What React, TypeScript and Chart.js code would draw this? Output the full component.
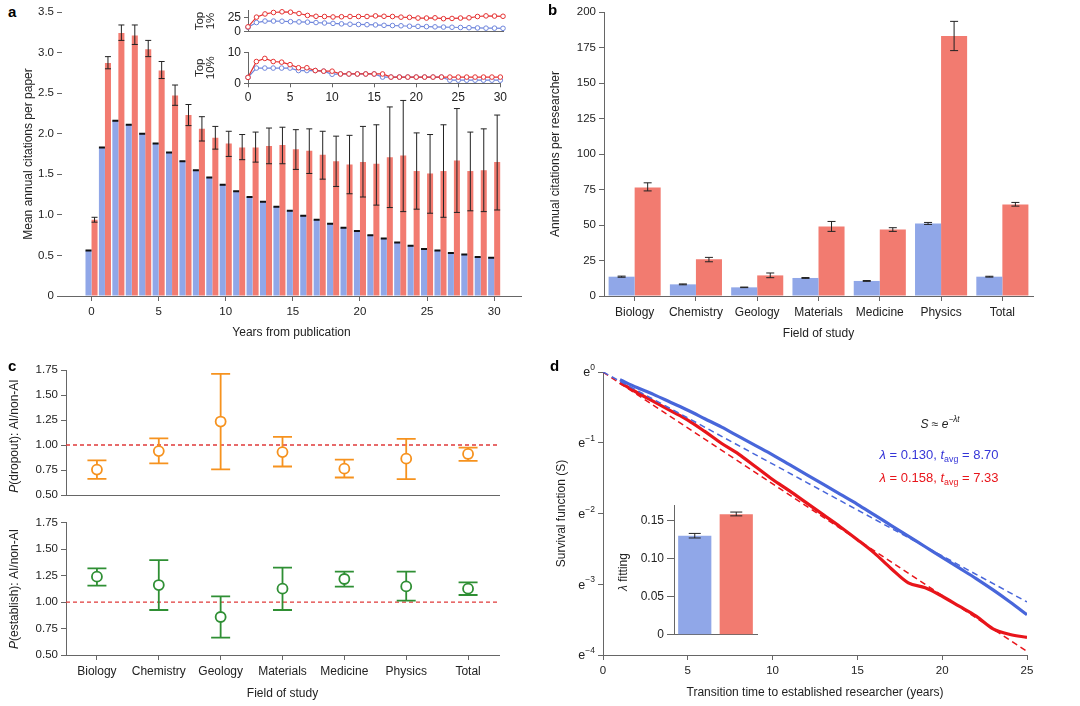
import React, { useEffect, useRef } from "react";
import { Chart, registerables } from "chart.js";
Chart.register(...registerables);

const FONT = "'Liberation Sans', Arial, 'DejaVu Sans', sans-serif";
const TEXT = "#222";
const AXIS = "#666";
const BLUE_BAR = "#90a7e8";
const RED_BAR = "#f27b70";
const ORANGE = "#f6921e";
const GREEN = "#2f8f34";
const DASH_RED = "#e03a3a";
const LINE_BLUE = "#4866da";
const LINE_RED = "#e8151b";
const TEXT_BLUE = "#3535d8";
const INSET_RED = "#e53232";
const INSET_BLUE = "#6f86dc";

Chart.defaults.font.family = FONT;
Chart.defaults.color = TEXT;

// ---------- Panel a ----------
const years = [0, 1, 2, 3, 4, 5, 6, 7, 8, 9, 10, 11, 12, 13, 14, 15, 16, 17, 18, 19, 20, 21, 22, 23, 24, 25, 26, 27, 28, 29, 30];
const nonAiPaper = [0.56, 1.83, 2.16, 2.11, 2.0, 1.88, 1.77, 1.66, 1.55, 1.46, 1.37, 1.29, 1.22, 1.16, 1.1, 1.05, 0.99, 0.94, 0.89, 0.84, 0.8, 0.75, 0.71, 0.66, 0.62, 0.58, 0.56, 0.53, 0.51, 0.48, 0.47];
const aiPaper = [0.94, 2.87, 3.24, 3.21, 3.04, 2.78, 2.47, 2.23, 2.06, 1.95, 1.88, 1.83, 1.83, 1.85, 1.86, 1.81, 1.79, 1.74, 1.66, 1.62, 1.65, 1.63, 1.71, 1.73, 1.54, 1.51, 1.54, 1.67, 1.54, 1.55, 1.65];
const aiPaperLo = [0.91, 2.8, 3.15, 3.1, 2.95, 2.68, 2.35, 2.1, 1.91, 1.81, 1.72, 1.68, 1.65, 1.63, 1.63, 1.56, 1.51, 1.44, 1.35, 1.26, 1.22, 1.12, 1.09, 1.04, 1.07, 1.02, 0.97, 1.03, 1.05, 1.04, 1.06];
const aiPaperHi = [0.97, 2.95, 3.34, 3.34, 3.15, 2.89, 2.6, 2.36, 2.21, 2.09, 2.03, 1.99, 2.02, 2.07, 2.08, 2.05, 2.06, 2.03, 1.97, 1.98, 2.09, 2.11, 2.33, 2.41, 2.01, 1.99, 2.11, 2.31, 2.02, 2.06, 2.23];
const yearTicks = [0, 5, 10, 15, 20, 25, 30];
const yearTickLabels = ["0", "5", "10", "15", "20", "25", "30"];
const paperTicks = [0, 0.5, 1, 1.5, 2, 2.5, 3, 3.5];
const paperTickLabels = ["0", "0.5", "1.0", "1.5", "2.0", "2.5", "3.0", "3.5"];

// inset of a
const top1Ai = [8.7, 25.8, 31.4, 34.0, 35.2, 34.5, 32.2, 28.8, 27.3, 26.9, 26.1, 26.5, 26.9, 26.9, 26.9, 28.0, 27.3, 26.9, 25.8, 25.4, 24.2, 24.2, 24.6, 23.1, 23.5, 24.2, 24.6, 26.9, 28.0, 27.7, 27.3];
const top1NonAi = [8.0, 16.3, 18.9, 18.9, 18.6, 17.8, 17.4, 17.0, 16.3, 15.5, 14.8, 14.0, 13.3, 12.9, 12.5, 12.1, 11.4, 11.0, 10.6, 9.8, 9.5, 9.1, 8.7, 8.3, 8.0, 7.6, 7.2, 6.8, 6.4, 6.4, 6.1];
const top10Ai = [1.9, 7, 8, 7, 6.8, 6, 5, 5, 4.1, 3.9, 3.9, 3, 3, 3, 3, 3, 3, 2, 2, 2, 2, 2, 2, 2, 2, 2, 2, 2, 2, 2, 2];
const top10NonAi = [1.9, 4.9, 4.9, 4.9, 4.9, 4.9, 4.1, 4.1, 4.1, 3.9, 2.9, 3, 3, 3, 3, 3, 2, 2, 2, 2, 2, 2, 2, 2, 1, 1, 1, 1, 1, 1, 1];
const top1Ticks = [0, 25];
const top10Ticks = [0, 10];

// ---------- Panel b ----------
const fields = ["Biology", "Chemistry", "Geology", "Materials", "Medicine", "Physics", "Total"];
const nonAiResearcher = [13.6, 8.2, 6.1, 12.7, 10.6, 51.1, 13.6];
const nonAiResearcherLo = [13.2, 7.9, 5.9, 12.4, 10.3, 50.4, 13.3];
const nonAiResearcherHi = [14.0, 8.5, 6.3, 13.0, 10.9, 51.8, 13.9];
const aiResearcher = [76.4, 25.8, 14.5, 49.0, 46.9, 183.1, 64.5];
const aiResearcherLo = [74.0, 24.1, 12.9, 45.5, 45.5, 172.8, 63.3];
const aiResearcherHi = [79.7, 27.2, 16.2, 52.5, 48.1, 193.4, 65.9];
const researcherTicks = [0, 25, 50, 75, 100, 125, 150, 175, 200];

// ---------- Panel c ----------
const dropoutRatio = [0.755, 0.94, 1.235, 0.93, 0.764, 0.864, 0.911];
const dropoutLo = [0.662, 0.817, 0.758, 0.786, 0.676, 0.66, 0.842];
const dropoutHi = [0.846, 1.066, 1.712, 1.081, 0.855, 1.062, 0.974];
const establishRatio = [1.24, 1.161, 0.859, 1.127, 1.218, 1.148, 1.127];
const establishLo = [1.155, 0.925, 0.664, 0.925, 1.146, 1.013, 1.067];
const establishHi = [1.319, 1.397, 1.054, 1.325, 1.287, 1.287, 1.186];
const ratioTicks = [0.5, 0.75, 1, 1.25, 1.5, 1.75];
const ratioTickLabels = ["0.50", "0.75", "1.00", "1.25", "1.50", "1.75"];
const parityValue = 1;

// ---------- Panel d ----------
const survivalYears = [1, 2, 3, 4, 5, 6, 7, 8, 9, 10, 11, 12, 13, 14, 15, 16, 17, 18, 19, 20, 21, 22, 23, 24, 25];
const nonAiLogS = [-0.11, -0.22, -0.32, -0.43, -0.54, -0.66, -0.78, -0.91, -1.04, -1.17, -1.31, -1.45, -1.59, -1.73, -1.87, -2.02, -2.17, -2.32, -2.47, -2.62, -2.77, -2.92, -3.08, -3.25, -3.43];
const aiLogS = [-0.15, -0.29, -0.42, -0.55, -0.68, -0.84, -1.01, -1.16, -1.34, -1.52, -1.68, -1.85, -2.02, -2.19, -2.37, -2.56, -2.78, -2.98, -3.05, -3.17, -3.31, -3.45, -3.63, -3.71, -3.75];
const fitYears = [0, 25];
const nonAiFitLogS = [0, -3.25];
const aiFitLogS = [0, -3.95];
const survivalXTicks = [0, 5, 10, 15, 20, 25];
const logTicks = [0, -1, -2, -3, -4];
const logTickExps = ["0", "−1", "−2", "−3", "−4"];
const lambdaGroups = ["non-AI", "AI"];
const lambdaFit = [0.13, 0.158];
const lambdaLo = [0.127, 0.156];
const lambdaHi = [0.133, 0.161];
const lambdaTicks = [0, 0.05, 0.1, 0.15];
const lambdaTickLabels = ["0", "0.05", "0.10", "0.15"];

// ---------- helpers ----------
type Seg = { t: string; i?: boolean; sub?: boolean; sup?: boolean; c?: string };

function drawRich(ctx: CanvasRenderingContext2D, segs: Seg[], x: number, y: number, size: number, color: string, align: string, rot: number) {
  ctx.save();
  ctx.translate(x, y);
  if (rot) ctx.rotate(rot);
  const fontOf = (s: Seg) => `${s.i ? "italic " : ""}${s.sub || s.sup ? size * 0.68 : size}px ${FONT}`;
  let total = 0;
  const widths = segs.map((s) => {
    ctx.font = fontOf(s);
    const w = ctx.measureText(s.t).width;
    total += w;
    return w;
  });
  let cx = align === "center" ? -total / 2 : align === "right" ? -total : 0;
  ctx.textBaseline = "middle";
  ctx.textAlign = "left";
  segs.forEach((s, k) => {
    ctx.font = fontOf(s);
    ctx.fillStyle = s.c || color;
    const dy = s.sub ? size * 0.32 : s.sup ? -size * 0.42 : 0;
    ctx.fillText(s.t, cx, dy);
    cx += widths[k];
  });
  ctx.restore();
}

type RichItem = { segs: Seg[]; x: number; y: number; size: number; color: string; align?: string; rot?: number };
function richPlugin(items: RichItem[], ox: number, oy: number) {
  return {
    id: "rich",
    afterDraw(chart: any) {
      items.forEach((it) => drawRich(chart.ctx, it.segs, it.x - ox, it.y - oy, it.size, it.color, it.align || "center", it.rot || 0));
    },
  };
}

function drawErrors(chart: any, before: boolean) {
  const ctx = chart.ctx;
  chart.data.datasets.forEach((ds: any, i: number) => {
    if (!ds.errLo || !!ds.errBefore !== before) return;
    const meta = chart.getDatasetMeta(i);
    const yScale = chart.scales[meta.yAxisID];
    ctx.save();
    ctx.strokeStyle = ds.errColor;
    ctx.lineWidth = ds.errWidth;
    meta.data.forEach((el: any, j: number) => {
      const x = el.x;
      const y1 = yScale.getPixelForValue(ds.errLo[j]);
      const y2 = yScale.getPixelForValue(ds.errHi[j]);
      const h = ds.capWidth / 2;
      ctx.beginPath();
      ctx.moveTo(x, y1);
      ctx.lineTo(x, y2);
      ctx.moveTo(x - h, y1);
      ctx.lineTo(x + h, y1);
      ctx.moveTo(x - h, y2);
      ctx.lineTo(x + h, y2);
      ctx.stroke();
    });
    ctx.restore();
  });
}
const errorBarPlugin = {
  id: "errbars",
  beforeDatasetsDraw(chart: any) {
    drawErrors(chart, true);
  },
  afterDatasetsDraw(chart: any) {
    drawErrors(chart, false);
  },
};

function refLinePlugin(value: number, color: string) {
  return {
    id: "refline",
    beforeDatasetsDraw(chart: any) {
      const { ctx, chartArea } = chart;
      const y = chart.scales.y.getPixelForValue(value);
      ctx.save();
      ctx.strokeStyle = color;
      ctx.lineWidth = 1.4;
      ctx.setLineDash([4, 3]);
      ctx.beginPath();
      ctx.moveTo(chartArea.left, y);
      ctx.lineTo(chartArea.right, y);
      ctx.stroke();
      ctx.restore();
    },
  };
}

const logLabelPlugin = {
  id: "loglabels",
  afterDraw(chart: any) {
    const s = chart.scales.y;
    logTicks.forEach((v, i) => {
      const y = s.getPixelForValue(v);
      drawRich(chart.ctx, [{ t: "e" }, { t: logTickExps[i], sup: true }], s.right - 8, y + 1, 12.5, TEXT, "right", 0);
    });
  },
};

const tickFont = { family: FONT, size: 11.5 };
const titleFont = { family: FONT, size: 12 };

function setTicks(vals: number[]) {
  return (s: any) => {
    s.ticks = vals.map((v) => ({ value: v }));
  };
}
const gridStyle = (tickLength = 5) => ({ drawOnChartArea: false, drawTicks: true, tickLength, color: AXIS, lineWidth: 1, offset: false });
const noGrid = { display: false };
const borderOn = { display: true, color: AXIS, width: 1 };

function ChartBox({ box, make }: { box: number[]; make: () => any }) {
  const ref = useRef<HTMLCanvasElement>(null);
  useEffect(() => {
    const chart = new Chart(ref.current as HTMLCanvasElement, make());
    return () => chart.destroy();
  }, []);
  const [l, t, w, h] = box;
  return <canvas ref={ref} width={w} height={h} style={{ position: "absolute", left: l, top: t, width: w, height: h }} />;
}

const baseOpts = {
  responsive: false,
  animation: false,
  events: [],
  plugins: { legend: { display: false }, tooltip: { enabled: false } },
};

// ---------- configs ----------
const A_BOX = [21, 0, 509, 340];
function makeA() {
  return {
    type: "bar",
    data: {
      datasets: [
        {
          data: years.map((x, i) => ({ x, y: nonAiPaper[i] })),
          backgroundColor: BLUE_BAR,
          errLo: nonAiPaper,
          errHi: nonAiPaper,
          errColor: "#111",
          errWidth: 2,
          capWidth: 6,
        },
        {
          data: years.map((x, i) => ({ x, y: aiPaper[i] })),
          backgroundColor: RED_BAR,
          errLo: aiPaperLo,
          errHi: aiPaperHi,
          errColor: "#222",
          errWidth: 1,
          capWidth: 6,
        },
      ],
    },
    options: {
      ...baseOpts,
      layout: { padding: { top: 12, right: 9, left: 0, bottom: 0 } },
      datasets: { bar: { categoryPercentage: 0.9, barPercentage: 1.0 } },
      scales: {
        x: {
          type: "linear",
          offset: false,
          min: -2.2,
          max: 32,
          afterBuildTicks: setTicks(yearTicks),
          ticks: { font: tickFont, color: TEXT, padding: 4, callback: (_v: any, i: number) => yearTickLabels[i] },
          grid: gridStyle(5),
          border: borderOn,
          title: { display: true, text: "Years from publication", font: titleFont, color: TEXT, padding: 0 },
          afterFit: (s: any) => {
            s.height = 44;
          },
        },
        y: {
          min: 0,
          max: 3.5,
          afterBuildTicks: setTicks(paperTicks),
          ticks: { font: tickFont, color: TEXT, padding: 3, callback: (_v: any, i: number) => paperTickLabels[i] },
          grid: gridStyle(5),
          border: { display: false },
          title: { display: true, text: "Mean annual citations per paper", font: titleFont, color: TEXT, padding: 0 },
          afterFit: (s: any) => {
            s.width = 41;
          },
        },
      },
    },
    plugins: [errorBarPlugin],
  };
}

function insetConfig(ai: number[], nonAi: number[], max: number, yt: number[], title: string[], padTop: number, xHeight: number, showX: boolean) {
  const ds = (vals: number[], color: string) => ({
    data: years.map((x, i) => ({ x, y: vals[i] })),
    borderColor: color,
    borderWidth: 1.2,
    pointRadius: 2.3,
    pointBorderWidth: 1,
    pointBorderColor: color,
    pointBackgroundColor: "#fff",
    clip: false,
  });
  return {
    type: "line",
    data: { datasets: [ds(ai, INSET_RED), ds(nonAi, INSET_BLUE)] },
    options: {
      ...baseOpts,
      layout: { padding: { top: padTop, right: 7, left: 0, bottom: 0 } },
      scales: {
        x: {
          type: "linear",
          min: 0,
          max: 30,
          afterBuildTicks: setTicks(yearTicks),
          ticks: { display: showX, font: { family: FONT, size: 12 }, color: TEXT, padding: 3, callback: (_v: any, i: number) => yearTickLabels[i] },
          grid: showX ? gridStyle(4) : noGrid,
          border: borderOn,
          afterFit: (s: any) => {
            s.height = xHeight;
          },
        },
        y: {
          min: 0,
          max,
          afterBuildTicks: setTicks(yt),
          ticks: { font: { family: FONT, size: 12 }, color: TEXT, padding: 3, callback: (_v: any, i: number) => String(yt[i]) },
          grid: gridStyle(4),
          border: borderOn,
          title: { display: true, text: title, font: { family: FONT, size: 11.5, lineHeight: 1.0 }, color: TEXT, padding: 0 },
          afterFit: (s: any) => {
            s.width = 54;
          },
        },
      },
    },
  };
}
const A1_BOX = [194, 0, 316, 42];
const A2_BOX = [194, 42, 316, 66];

const B_BOX = [548, 0, 492, 341];
function makeB() {
  return {
    type: "bar",
    data: {
      labels: fields,
      datasets: [
        {
          data: nonAiResearcher,
          backgroundColor: BLUE_BAR,
          errLo: nonAiResearcherLo,
          errHi: nonAiResearcherHi,
          errColor: "#222",
          errWidth: 1,
          capWidth: 8,
        },
        {
          data: aiResearcher,
          backgroundColor: RED_BAR,
          errLo: aiResearcherLo,
          errHi: aiResearcherHi,
          errColor: "#222",
          errWidth: 1,
          capWidth: 8,
        },
      ],
    },
    options: {
      ...baseOpts,
      layout: { padding: { top: 12, right: 7, left: 0, bottom: 0 } },
      datasets: { bar: { categoryPercentage: 0.85, barPercentage: 1.0 } },
      scales: {
        x: {
          type: "category",
          offset: true,
          ticks: { font: { family: FONT, size: 12 }, color: TEXT, padding: 4 },
          grid: gridStyle(5),
          border: borderOn,
          title: { display: true, text: "Field of study", font: titleFont, color: TEXT, padding: 0 },
          afterFit: (s: any) => {
            s.height = 45;
          },
        },
        y: {
          min: 0,
          max: 200,
          afterBuildTicks: setTicks(researcherTicks),
          ticks: { font: tickFont, color: TEXT, padding: 3, callback: (_v: any, i: number) => String(researcherTicks[i]) },
          grid: gridStyle(5),
          border: borderOn,
          title: { display: true, text: "Annual citations per researcher", font: titleFont, color: TEXT, padding: 0 },
          afterFit: (s: any) => {
            s.width = 56;
          },
        },
      },
    },
    plugins: [errorBarPlugin],
  };
}

function cConfig(vals: number[], lo: number[], hi: number[], color: string, box: number[], padTop: number, xHeight: number, bottom: boolean, titleSegs: Seg[], titleY: number) {
  return {
    type: "line",
    data: {
      labels: fields,
      datasets: [
        {
          data: vals,
          showLine: false,
          pointRadius: 5,
          pointBorderWidth: 1.8,
          pointBorderColor: color,
          pointBackgroundColor: "#fff",
          errLo: lo,
          errHi: hi,
          errColor: color,
          errWidth: 1.8,
          capWidth: 19,
          errBefore: true,
          clip: false,
        },
      ],
    },
    options: {
      ...baseOpts,
      layout: { padding: { top: padTop, right: 11, left: 0, bottom: 0 } },
      scales: {
        x: {
          type: "category",
          offset: true,
          ticks: { display: bottom, font: { family: FONT, size: 12 }, color: TEXT, padding: 4 },
          grid: bottom ? gridStyle(5) : noGrid,
          border: borderOn,
          title: { display: bottom, text: "Field of study", font: titleFont, color: TEXT, padding: { top: 0, bottom: 4.8 } },
          afterFit: (s: any) => {
            s.height = xHeight;
          },
        },
        y: {
          min: 0.5,
          max: 1.75,
          afterBuildTicks: setTicks(ratioTicks),
          ticks: { font: tickFont, color: TEXT, padding: 3, callback: (_v: any, i: number) => ratioTickLabels[i] },
          grid: gridStyle(5),
          border: borderOn,
          afterFit: (s: any) => {
            s.width = 66;
          },
        },
      },
    },
    plugins: [
      refLinePlugin(parityValue, DASH_RED),
      errorBarPlugin,
      richPlugin([{ segs: titleSegs, x: 15, y: titleY, size: 12, color: TEXT, rot: -Math.PI / 2 }], box[0], box[1]),
    ],
  };
}
const C1_BOX = [0, 345, 510, 160];
const C2_BOX = [0, 505, 510, 201];

const D_BOX = [554, 345, 486, 355];
function makeD() {
  const line = (xs: number[], ys: number[], color: string, width: number, dash: number[]) => ({
    data: xs.map((x, i) => ({ x, y: ys[i] })),
    borderColor: color,
    borderWidth: width,
    borderDash: dash,
    pointRadius: 0,
    tension: 0.4,
    cubicInterpolationMode: "monotone",
    fill: false,
  });
  return {
    type: "line",
    data: {
      datasets: [
        line(fitYears, nonAiFitLogS, LINE_BLUE, 1.5, [6, 4]),
        line(fitYears, aiFitLogS, LINE_RED, 1.5, [6, 4]),
        line(survivalYears, nonAiLogS, LINE_BLUE, 3.2, []),
        line(survivalYears, aiLogS, LINE_RED, 3.2, []),
      ],
    },
    options: {
      ...baseOpts,
      layout: { padding: { top: 27, right: 13, left: 0, bottom: 0 } },
      scales: {
        x: {
          type: "linear",
          min: 0,
          max: 25,
          afterBuildTicks: setTicks(survivalXTicks),
          ticks: { font: tickFont, color: TEXT, padding: 4, callback: (_v: any, i: number) => String(survivalXTicks[i]) },
          grid: gridStyle(5),
          border: borderOn,
          title: { display: true, text: "Transition time to established researcher (years)", font: titleFont, color: TEXT, padding: 0 },
          afterFit: (s: any) => {
            s.height = 45;
          },
        },
        y: {
          min: -4,
          max: 0,
          afterBuildTicks: setTicks(logTicks),
          ticks: { display: false },
          grid: gridStyle(5),
          border: borderOn,
          title: { display: true, text: "Survival function (S)", font: titleFont, color: TEXT, padding: 0 },
          afterFit: (s: any) => {
            s.width = 49;
          },
        },
      },
    },
    plugins: [
      logLabelPlugin,
      richPlugin(
        [
          { segs: [{ t: "S", i: true }, { t: " ≈ " }, { t: "e", i: true }, { t: "−λt", i: true, sup: true }], x: 940, y: 425, size: 12, color: TEXT },
          { segs: [{ t: "λ", i: true }, { t: " = 0.130, " }, { t: "t", i: true }, { t: "avg", sub: true }, { t: " = 8.70" }], x: 939, y: 455, size: 13, color: TEXT_BLUE },
          { segs: [{ t: "λ", i: true }, { t: " = 0.158, " }, { t: "t", i: true }, { t: "avg", sub: true }, { t: " = 7.33" }], x: 939, y: 478, size: 13, color: LINE_RED },
        ],
        D_BOX[0],
        D_BOX[1]
      ),
    ],
  };
}

const D2_BOX = [610, 495, 155, 150];
function makeD2() {
  return {
    type: "bar",
    data: {
      labels: lambdaGroups,
      datasets: [
        {
          data: lambdaFit,
          backgroundColor: [BLUE_BAR, RED_BAR],
          errLo: lambdaLo,
          errHi: lambdaHi,
          errColor: "#222",
          errWidth: 1,
          capWidth: 12,
        },
      ],
    },
    options: {
      ...baseOpts,
      layout: { padding: { top: 8, right: 8, left: 0, bottom: 0 } },
      datasets: { bar: { categoryPercentage: 0.8, barPercentage: 1.0 } },
      scales: {
        x: {
          type: "category",
          offset: true,
          ticks: { display: false },
          grid: noGrid,
          border: borderOn,
          afterFit: (s: any) => {
            s.height = 5;
          },
        },
        y: {
          min: 0,
          max: 0.17,
          afterBuildTicks: setTicks(lambdaTicks),
          ticks: { font: { family: FONT, size: 12 }, color: TEXT, padding: 3, callback: (_v: any, i: number) => lambdaTickLabels[i] },
          grid: gridStyle(7),
          border: borderOn,
          afterFit: (s: any) => {
            s.width = 64;
          },
        },
      },
    },
    plugins: [
      errorBarPlugin,
      richPlugin([{ segs: [{ t: "λ", i: true }, { t: " fitting" }], x: 624, y: 572, size: 12, color: TEXT, rot: -Math.PI / 2 }], D2_BOX[0], D2_BOX[1]),
    ],
  };
}

const letterStyle = (left: number, top: number): React.CSSProperties => ({
  position: "absolute",
  left,
  top,
  fontFamily: FONT,
  fontWeight: "bold",
  fontSize: 15,
  lineHeight: "15px",
  color: "#000",
});

export default function App() {
  return (
    <div style={{ position: "fixed", left: 0, top: 0, width: 1080, height: 706, background: "#fff", overflow: "hidden" }}>
      <ChartBox box={A_BOX} make={makeA} />
      <ChartBox box={A1_BOX} make={() => insetConfig(top1Ai, top1NonAi, 38, top1Ticks, ["Top", "1%"], 6, 3, false)} />
      <ChartBox box={A2_BOX} make={() => insetConfig(top10Ai, top10NonAi, 10, top10Ticks, ["Top", "10%"], 7, 24.7, true)} />
      <ChartBox box={B_BOX} make={makeB} />
      <ChartBox
        box={C1_BOX}
        make={() => cConfig(dropoutRatio, dropoutLo, dropoutHi, ORANGE, C1_BOX, 25, 3, false, [{ t: "P", i: true }, { t: "(dropout): AI/non-AI" }], 436)}
      />
      <ChartBox
        box={C2_BOX}
        make={() => cConfig(establishRatio, establishLo, establishHi, GREEN, C2_BOX, 17.7, 51, true, [{ t: "P", i: true }, { t: "(establish): AI/non-AI" }], 589)}
      />
      <ChartBox box={D_BOX} make={makeD} />
      <ChartBox box={D2_BOX} make={makeD2} />
      <div style={letterStyle(8, 4)}>a</div>
      <div style={letterStyle(548, 2)}>b</div>
      <div style={letterStyle(8, 358)}>c</div>
      <div style={letterStyle(550, 358)}>d</div>
    </div>
  );
}
